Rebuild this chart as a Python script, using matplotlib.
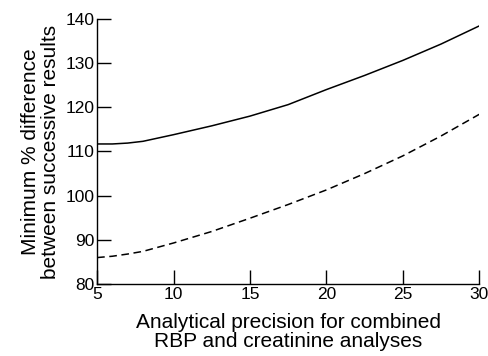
import matplotlib
matplotlib.use('Agg')
import matplotlib.pyplot as plt

plt.rcParams['font.family'] = ['Liberation Sans', 'DejaVu Sans']

precision = [5, 6, 7, 8, 10, 12.5, 15, 17.5, 20, 22.5, 25, 27.5, 30]
solid_diff = [111.7, 111.7, 111.9, 112.3, 113.8, 115.8, 118.0, 120.6, 124.0, 127.2, 130.6, 134.3, 138.4]
dashed_diff = [86.0, 86.3, 86.8, 87.4, 89.3, 91.9, 94.9, 98.0, 101.3, 105.0, 109.0, 113.5, 118.4]

x_ticks = [5, 10, 15, 20, 25, 30]
y_ticks = [80, 90, 100, 110, 120, 130, 140]

fig = plt.figure(figsize=(4.88, 3.56), dpi=100)
ax = fig.add_axes([0.199, 0.202, 0.783, 0.745])

ax.plot(precision, solid_diff, color='black', lw=1.1)
ax.plot(precision, dashed_diff, color='black', lw=1.1, linestyle=(0, (5, 3)))

ax.set_xlim(5, 30)
ax.set_ylim(80, 140)
ax.set_xticks(x_ticks)
ax.set_yticks(y_ticks)

for s in ['top', 'right']:
    ax.spines[s].set_visible(False)
for s in ['left', 'bottom']:
    ax.spines[s].set_linewidth(1.0)

ax.tick_params(direction='in', length=10, width=1.0, labelsize=12.5, pad=2)

ax.set_xlabel('Analytical precision for combined\nRBP and creatinine analyses',
              fontsize=15, linespacing=1.0, labelpad=8)
ax.set_ylabel('Minimum % difference\nbetween successive results',
              fontsize=15, linespacing=1.05, labelpad=4)

fig.savefig('out.png', dpi=100)
